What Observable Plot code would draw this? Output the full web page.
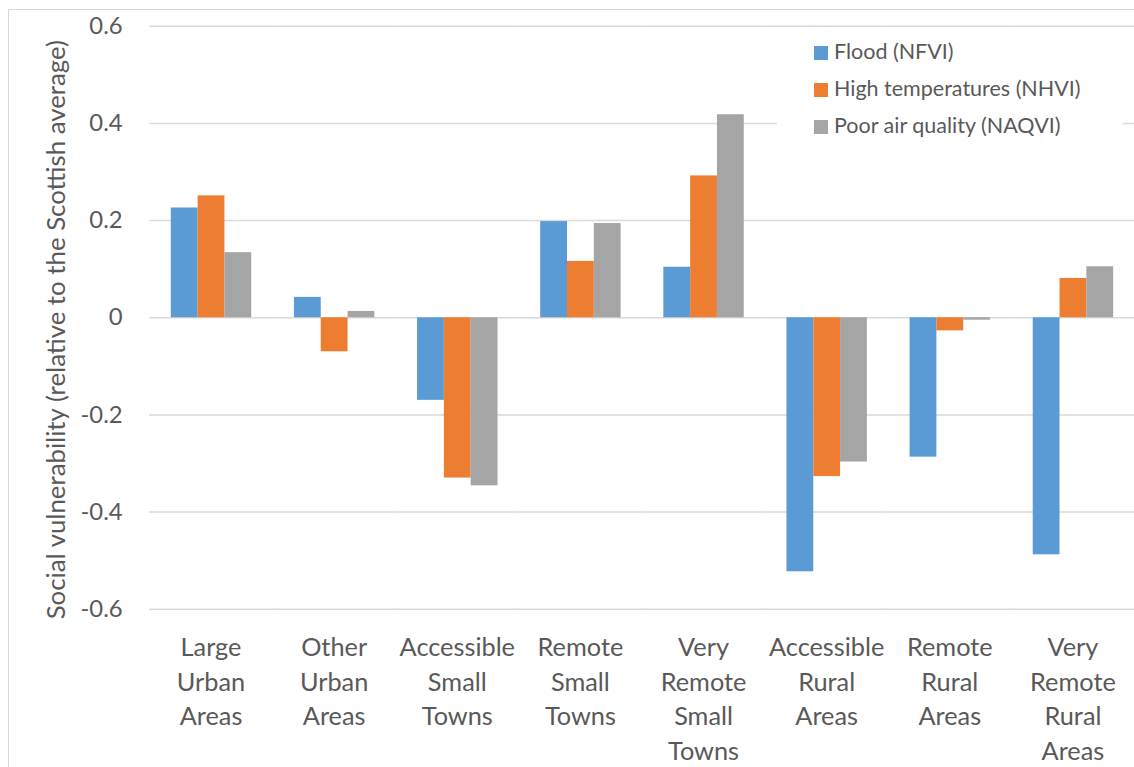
<!DOCTYPE html>
<html>
<head>
<meta charset="utf-8">
<script src="https://cdn.jsdelivr.net/npm/d3@7"></script>
<script src="https://cdn.jsdelivr.net/npm/@observablehq/plot@0.6"></script>
<style>
  html, body { margin: 0; padding: 0; background: #fff; overflow: hidden; }
  #wrap { position: relative; width: 1134px; height: 767px; overflow: hidden; }
  #border { position: absolute; left: 8px; top: 9px; width: 1200px; height: 800px;
            border-left: 1px solid #d9d9d9; border-top: 1px solid #d9d9d9; pointer-events: none; }
  #chart { position: absolute; left: 0; top: 0; }
  #legend { position: absolute; left: 777px; top: 32px; width: 346px; height: 112px; background: #fff;
            font-family: Lato, sans-serif; font-size: 21.5px; color: #595959; }
  .item { position: absolute; left: 37px; height: 24px; line-height: 24px; white-space: nowrap; }
  .sw { display: inline-block; width: 14px; height: 14px; margin-right: 6px; vertical-align: -1px; }
</style>
</head>
<body>
<div id="wrap">
  <div id="chart"></div>
  <div id="border"></div>
  <div id="legend"></div>
</div>
<script>
const categories = ["Large Urban Areas", "Other Urban Areas", "Accessible Small Towns", "Remote Small Towns",
  "Very Remote Small Towns", "Accessible Rural Areas", "Remote Rural Areas", "Very Remote Rural Areas"];
const categoryLabels = ["Large\nUrban\nAreas", "Other\nUrban\nAreas", "Accessible\nSmall\nTowns", "Remote\nSmall\nTowns",
  "Very\nRemote\nSmall\nTowns", "Accessible\nRural\nAreas", "Remote\nRural\nAreas", "Very\nRemote\nRural\nAreas"];
const seriesNames = ["Flood (NFVI)", "High temperatures (NHVI)", "Poor air quality (NAQVI)"];
const seriesColors = ["#5B9BD5", "#ED7D31", "#A5A5A5"];
const flood = [0.226, 0.042, -0.170, 0.198, 0.104, -0.523, -0.287, -0.488];
const heat  = [0.251, -0.070, -0.330, 0.116, 0.292, -0.327, -0.027, 0.081];
const air   = [0.134, 0.013, -0.346, 0.194, 0.418, -0.297, -0.005, 0.105];
const yTicks = [-0.6, -0.4, -0.2, 0, 0.2, 0.4, 0.6];
const yTitle = "Social vulnerability (relative to the Scottish average)";

const seriesValues = [flood, heat, air];
const data = [];
categories.forEach((c, i) => {
  seriesNames.forEach((s, j) => data.push({category: c, series: s, value: seriesValues[j][i]}));
});
const labelOf = new Map(categories.map((c, i) => [c, categoryLabels[i]]));

const chart = Plot.plot({
  width: 1142,
  height: 767,
  marginLeft: 150,
  marginRight: 0,
  marginTop: 26,
  marginBottom: 154,
  style: {fontFamily: "Lato, sans-serif", color: "#595959", background: "transparent", overflow: "visible"},
  fx: {domain: categories, padding: 0},
  x: {domain: seriesNames, paddingInner: 0, paddingOuter: 0.76, axis: null},
  y: {domain: [-0.6, 0.6], ticks: yTicks},
  color: {domain: seriesNames, range: seriesColors},
  marks: [
    Plot.gridY(yTicks, {stroke: "#d9d9d9", strokeOpacity: 1, strokeWidth: 1.5}),
    Plot.barY(data, {fx: "category", x: "series", y: "value", fill: "series"}),
    Plot.axisY(yTicks, {tickSize: 0, tickPadding: 27, fontSize: 24, label: null,
      tickFormat: d => d === 0 ? "0" : d.toFixed(1)}),
    Plot.axisFx({anchor: "bottom", tickSize: 0, tickPadding: 23, fontSize: 25.5, lineHeight: 1.36, label: null,
      tickFormat: d => labelOf.get(d)}),
    Plot.text([yTitle], {frameAnchor: "left", textAnchor: "middle", rotate: -90, dx: -93, dy: 12, fontSize: 26,
      fill: "#595959", text: d => d, facet: "super"})
  ]
});
document.getElementById("chart").appendChild(chart);

const legend = document.getElementById("legend");
seriesNames.forEach((s, j) => {
  const item = document.createElement("div");
  item.className = "item";
  item.style.top = (7 + j * 37) + "px";
  const sw = document.createElement("span");
  sw.className = "sw";
  sw.style.background = seriesColors[j];
  item.appendChild(sw);
  item.appendChild(document.createTextNode(s));
  legend.appendChild(item);
});
</script>
</body>
</html>
